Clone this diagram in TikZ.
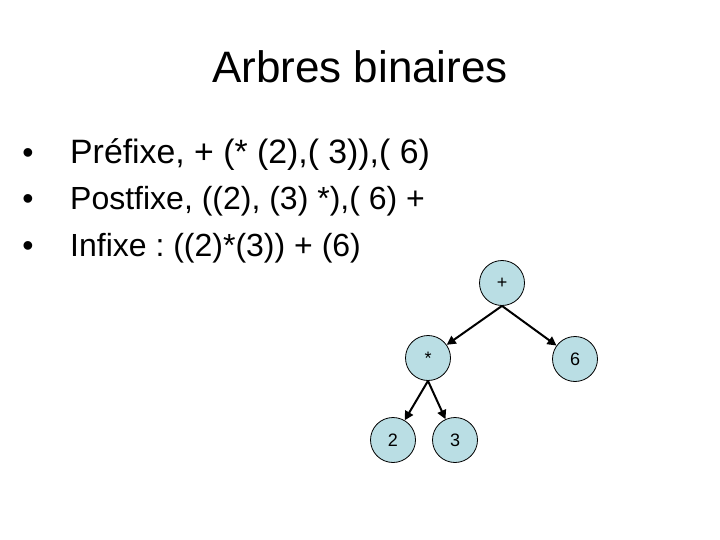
\documentclass[tikz,border=0pt]{standalone}
\usepackage{fontspec}
\setmainfont{Liberation Sans}
\usetikzlibrary{arrows.meta}
\definecolor{nodefill}{RGB}{186,222,228}
\frenchspacing
\begin{document}
\begin{tikzpicture}[x=1pt,y=-1pt,
  treenode/.style={circle,draw=black,line width=0.8pt,fill=nodefill,minimum size=45pt,inner sep=0pt,font=\fontsize{18}{20}\selectfont},
  edge/.style={line width=2pt,-{Triangle[length=9pt,width=9pt]}},
  bullettext/.style={anchor=base west,inner sep=0pt,font=\fontsize{32}{38}\selectfont},
  bulletmark/.style={anchor=base,inner sep=0pt,font=\fontsize{32}{38}\selectfont}]
\useasboundingbox[fill=white] (0,0) rectangle (720,540);
\node[anchor=base,inner sep=0pt,font=\fontsize{44}{50}\selectfont] (title) at (360,83) {Arbres binaires};
\node[bulletmark] (b1) at (28,164) {•};
\node[bulletmark] (b2) at (28,210) {•};
\node[bulletmark] (b3) at (28,256) {•};
\node[bullettext,font=\fontsize{33.8}{38}\selectfont] (t1) at (70,164) {Préfixe, + (* (2),( 3)),( 6)};
\node[bullettext] (t2) at (70,210) {Postfixe, ((2), (3) *),( 6) +};
\node[bullettext] (t3) at (70,256) {Infixe : ((2)*(3)) + (6)};
\node[treenode] (plus) at (502,283) {+};
\node[treenode] (times) at (428,358) {*};
\node[treenode] (six) at (575,359) {6};
\node[treenode] (two) at (393,440) {2};
\node[treenode] (three) at (455,440) {3};
\draw[edge] (plus.south) -- (times);
\draw[edge] (plus.south) -- (six);
\draw[edge] (times.south) -- (two);
\draw[edge] (times.south) -- (three);
\end{tikzpicture}
\end{document}
